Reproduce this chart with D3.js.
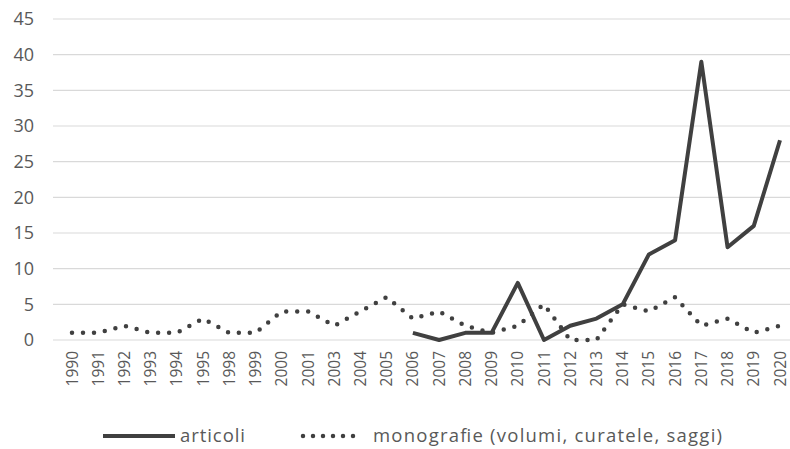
<!DOCTYPE html>
<html><head><meta charset="utf-8">
<script src="https://cdn.jsdelivr.net/npm/d3@7"></script>
<style>body{margin:0;background:#fff}</style>
</head><body>
<svg id="c" width="790" height="449"></svg>
<script>
const years = ["1990","1991","1992","1993","1994","1995","1998","1999","2000","2001","2003","2004","2005","2006","2007","2008","2009","2010","2011","2012","2013","2014","2015","2016","2017","2018","2019","2020"];
const articoli = [null,null,null,null,null,null,null,null,null,null,null,null,null,1,0,1,1,8,0,2,3,5,12,14,39,13,16,28];
const monografie = [1,1,2,1,1,3,1,1,4,4,2,4,6,3,4,2,1,2,5,0,0,5,4,6,2,3,1,2];
const yTicks = [0,5,10,15,20,25,30,35,40,45];
const seriesNames = ["articoli","monografie (volumi, curatele, saggi)"];

const svg = d3.select("#c");
const font = "'Open Sans', sans-serif";
const x = d3.scalePoint().domain(years).range([72,780]);
const y = d3.scaleLinear().domain([0,45]).range([340,19]);

svg.append("g").selectAll("line").data(yTicks).join("line")
  .attr("x1",53).attr("x2",790).attr("y1",d=>y(d)).attr("y2",d=>y(d))
  .attr("stroke","#d9d9d9").attr("stroke-width",1.2);

svg.append("g").selectAll("text").data(yTicks).join("text")
  .attr("x",34).attr("y",d=>y(d)).attr("dy","0.36em").attr("text-anchor","end")
  .attr("font-family",font).attr("font-size",18).attr("fill","#595959").text(d=>d);

svg.append("g").selectAll("text").data(years).join("text")
  .attr("transform",d=>`translate(${x(d)+5.5},351) rotate(-90)`)
  .attr("text-anchor","end")
  .attr("font-family",font).attr("font-size",15.5).attr("fill","#595959").text(d=>d);

const lineA = d3.line().defined(d=>d[1]!=null).x(d=>x(d[0])).y(d=>y(d[1]));
svg.append("path").datum(years.map((yr,i)=>[yr,articoli[i]]))
  .attr("d",lineA).attr("fill","none").attr("stroke","#404040").attr("stroke-width",4)
  .attr("stroke-linejoin","round");
svg.append("path").datum(years.map((yr,i)=>[yr,monografie[i]]))
  .attr("d",lineA).attr("fill","none").attr("stroke","#404040").attr("stroke-width",4.5)
  .attr("stroke-linecap","round").attr("stroke-dasharray","0 11");

// legend
const lg = svg.append("g");
lg.append("line").attr("x1",103).attr("x2",175).attr("y1",436).attr("y2",436)
  .attr("stroke","#404040").attr("stroke-width",4);
lg.append("text").attr("x",180).attr("y",436).attr("dy","0.33em")
  .attr("textLength",65).attr("lengthAdjust","spacing")
  .attr("font-family",font).attr("font-size",18.5).attr("fill","#595959").text(seriesNames[0]);
lg.append("line").attr("x1",303).attr("x2",355).attr("y1",436).attr("y2",436)
  .attr("stroke","#404040").attr("stroke-width",4.5).attr("stroke-linecap","round").attr("stroke-dasharray","0 10");
lg.append("text").attr("x",373).attr("y",436).attr("dy","0.33em")
  .attr("textLength",349).attr("lengthAdjust","spacing")
  .attr("font-family",font).attr("font-size",18.5).attr("fill","#595959").text(seriesNames[1]);
</script>
</body></html>
